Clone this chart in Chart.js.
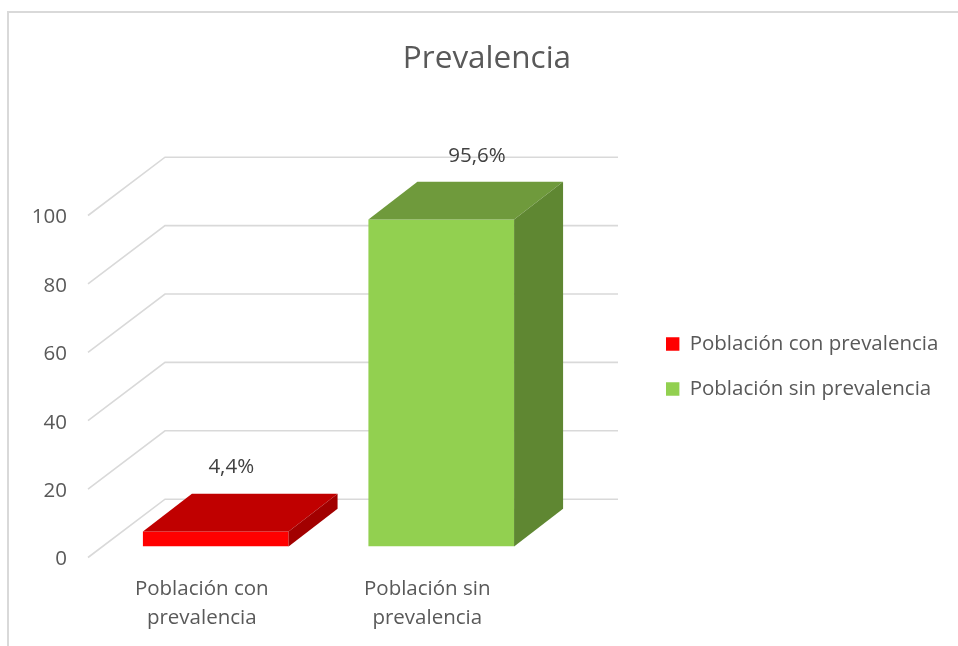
<!DOCTYPE html>
<html>
<head>
<meta charset="utf-8">
<script src="https://cdn.jsdelivr.net/npm/chart.js@4/dist/chart.umd.min.js"></script>
<style>
html, body { margin: 0; padding: 0; background: #ffffff; overflow: hidden; }
#frame { position: absolute; left: 7px; top: 11px; width: 1000px; height: 700px;
         border-left: 2px solid #d9d9d9; border-top: 2px solid #d9d9d9; }
#c { position: absolute; left: 0; top: 0; }
</style>
</head>
<body>
<div id="frame"></div>
<canvas id="c" width="958" height="646"></canvas>
<script>
// ---- data ----
const chartTitle = 'Prevalencia';
const categories = [['Población con', 'prevalencia'], ['Población sin', 'prevalencia']];
const legendLabels = ['Población con prevalencia', 'Población sin prevalencia'];
const values = [4.4, 95.6];
const yTicks = [0, 20, 40, 60, 80, 100];

// ---- style ----
const FONT = "'Open Sans', sans-serif";
const frontColors = ['#FF0000', '#92D050'];
const topColors = ['#C00000', '#6F9A3C'];
const sideColors = ['#A20000', '#5F8732'];
const TEXT = '#595959';

const fmt = v => v.toFixed(1).replace('.', ',') + '%';

const threeD = {
  id: 'threeD',
  afterLayout(chart, args, opts) {
    const lg = chart.legend;
    if (lg) {
      const dx = opts.legendBoxX - (lg.left + lg.options.labels.padding);
      lg.left += dx; lg.right += dx;
      lg.top += opts.legendDY; lg.bottom += opts.legendDY;
    }
    const t = chart.titleBlock;
    if (t) { t.left = opts.titleCenter - 300; t.right = opts.titleCenter + 300; }
  },
  beforeDatasetsDraw(chart, args, opts) {
    const { ctx, chartArea: ca } = chart;
    const y = chart.scales.y;
    ctx.save();
    ctx.strokeStyle = '#d9d9d9';
    ctx.lineWidth = 1.6;
    y.ticks.forEach(t => {
      const yy = y.getPixelForValue(t.value);
      ctx.beginPath();
      ctx.moveTo(ca.left - 15, yy + 11);
      ctx.lineTo(ca.left + 62, yy - 47.3);
      ctx.lineTo(ca.right + 64, yy - 47.3);
      ctx.stroke();
    });
    ctx.restore();
  },
  afterDatasetsDraw(chart, args, opts) {
    const { ctx } = chart;
    const meta = chart.getDatasetMeta(0);
    const DX = 49, DY = -37.7;
    ctx.save();
    meta.data.forEach((bar, i) => {
      const { x, y, base, width } = bar.getProps(['x', 'y', 'base', 'width'], true);
      const l = x - width / 2, r = x + width / 2;
      ctx.fillStyle = topColors[i];
      ctx.beginPath();
      ctx.moveTo(l, y); ctx.lineTo(l + DX, y + DY); ctx.lineTo(r + DX, y + DY); ctx.lineTo(r, y);
      ctx.closePath(); ctx.fill();
      ctx.fillStyle = sideColors[i];
      ctx.beginPath();
      ctx.moveTo(r, y); ctx.lineTo(r + DX, y + DY); ctx.lineTo(r + DX, base + DY); ctx.lineTo(r, base);
      ctx.closePath(); ctx.fill();
    });
    ctx.font = '20.5px ' + FONT;
    ctx.fillStyle = '#404040';
    ctx.textAlign = 'center';
    ctx.textBaseline = 'middle';
    meta.data.forEach((bar, i) => {
      const { x, y } = bar.getProps(['x', 'y'], true);
      ctx.fillText(fmt(values[i]), x + opts.labelShift[i], y - 63.8);
    });
    ctx.restore();
  }
};

new Chart(document.getElementById('c'), {
  type: 'bar',
  data: {
    labels: categories,
    datasets: [{
      data: values,
      backgroundColor: frontColors,
      borderWidth: 0,
      barPercentage: 0.646,
      categoryPercentage: 1
    }]
  },
  options: {
    responsive: false,
    animation: false,
    devicePixelRatio: 1,
    layout: { padding: { left: 0, right: 104, top: 0, bottom: 0 } },
    scales: {
      x: {
        type: 'category',
        grid: { display: false, drawTicks: false },
        border: { display: false },
        ticks: {
          color: TEXT,
          font: { family: FONT, size: 20.5, lineHeight: 1.41 },
          padding: 28.2,
          labelOffset: -14,
          maxRotation: 0,
          autoSkip: false
        },
        afterFit: s => { s.height = 99.5; }
      },
      y: {
        min: 0, max: 100,
        grid: { display: false, drawTicks: false },
        border: { display: false },
        afterBuildTicks: s => { s.ticks = yTicks.map(v => ({ value: v })); },
        ticks: {
          color: TEXT,
          font: { family: FONT, size: 20.5 },
          padding: 36,
          labelOffset: 13
        },
        afterFit: s => { s.width = 103; }
      }
    },
    plugins: {
      title: {
        display: true,
        text: chartTitle,
        color: TEXT,
        font: { family: FONT, size: 31.5, weight: 'normal', lineHeight: 1.2 },
        padding: { top: 40.4, bottom: 126.3 }
      },
      legend: {
        display: true,
        position: 'right',
        maxWidth: 300,
        onClick: null,
        labels: {
          boxWidth: 13.4,
          boxHeight: 13.4,
          padding: 24.5,
          color: TEXT,
          font: { family: FONT, size: 20.5 },
          generateLabels: () => legendLabels.map((t, i) => ({
            text: t, fillStyle: frontColors[i], strokeStyle: frontColors[i],
            lineWidth: 0, hidden: false, index: i, fontColor: TEXT
          }))
        }
      },
      tooltip: { enabled: false },
      threeD: { labelShift: [15.5, 35.7], legendBoxX: 666, legendDY: 43.5, titleCenter: 487 }
    }
  },
  plugins: [threeD]
});
</script>
</body>
</html>
